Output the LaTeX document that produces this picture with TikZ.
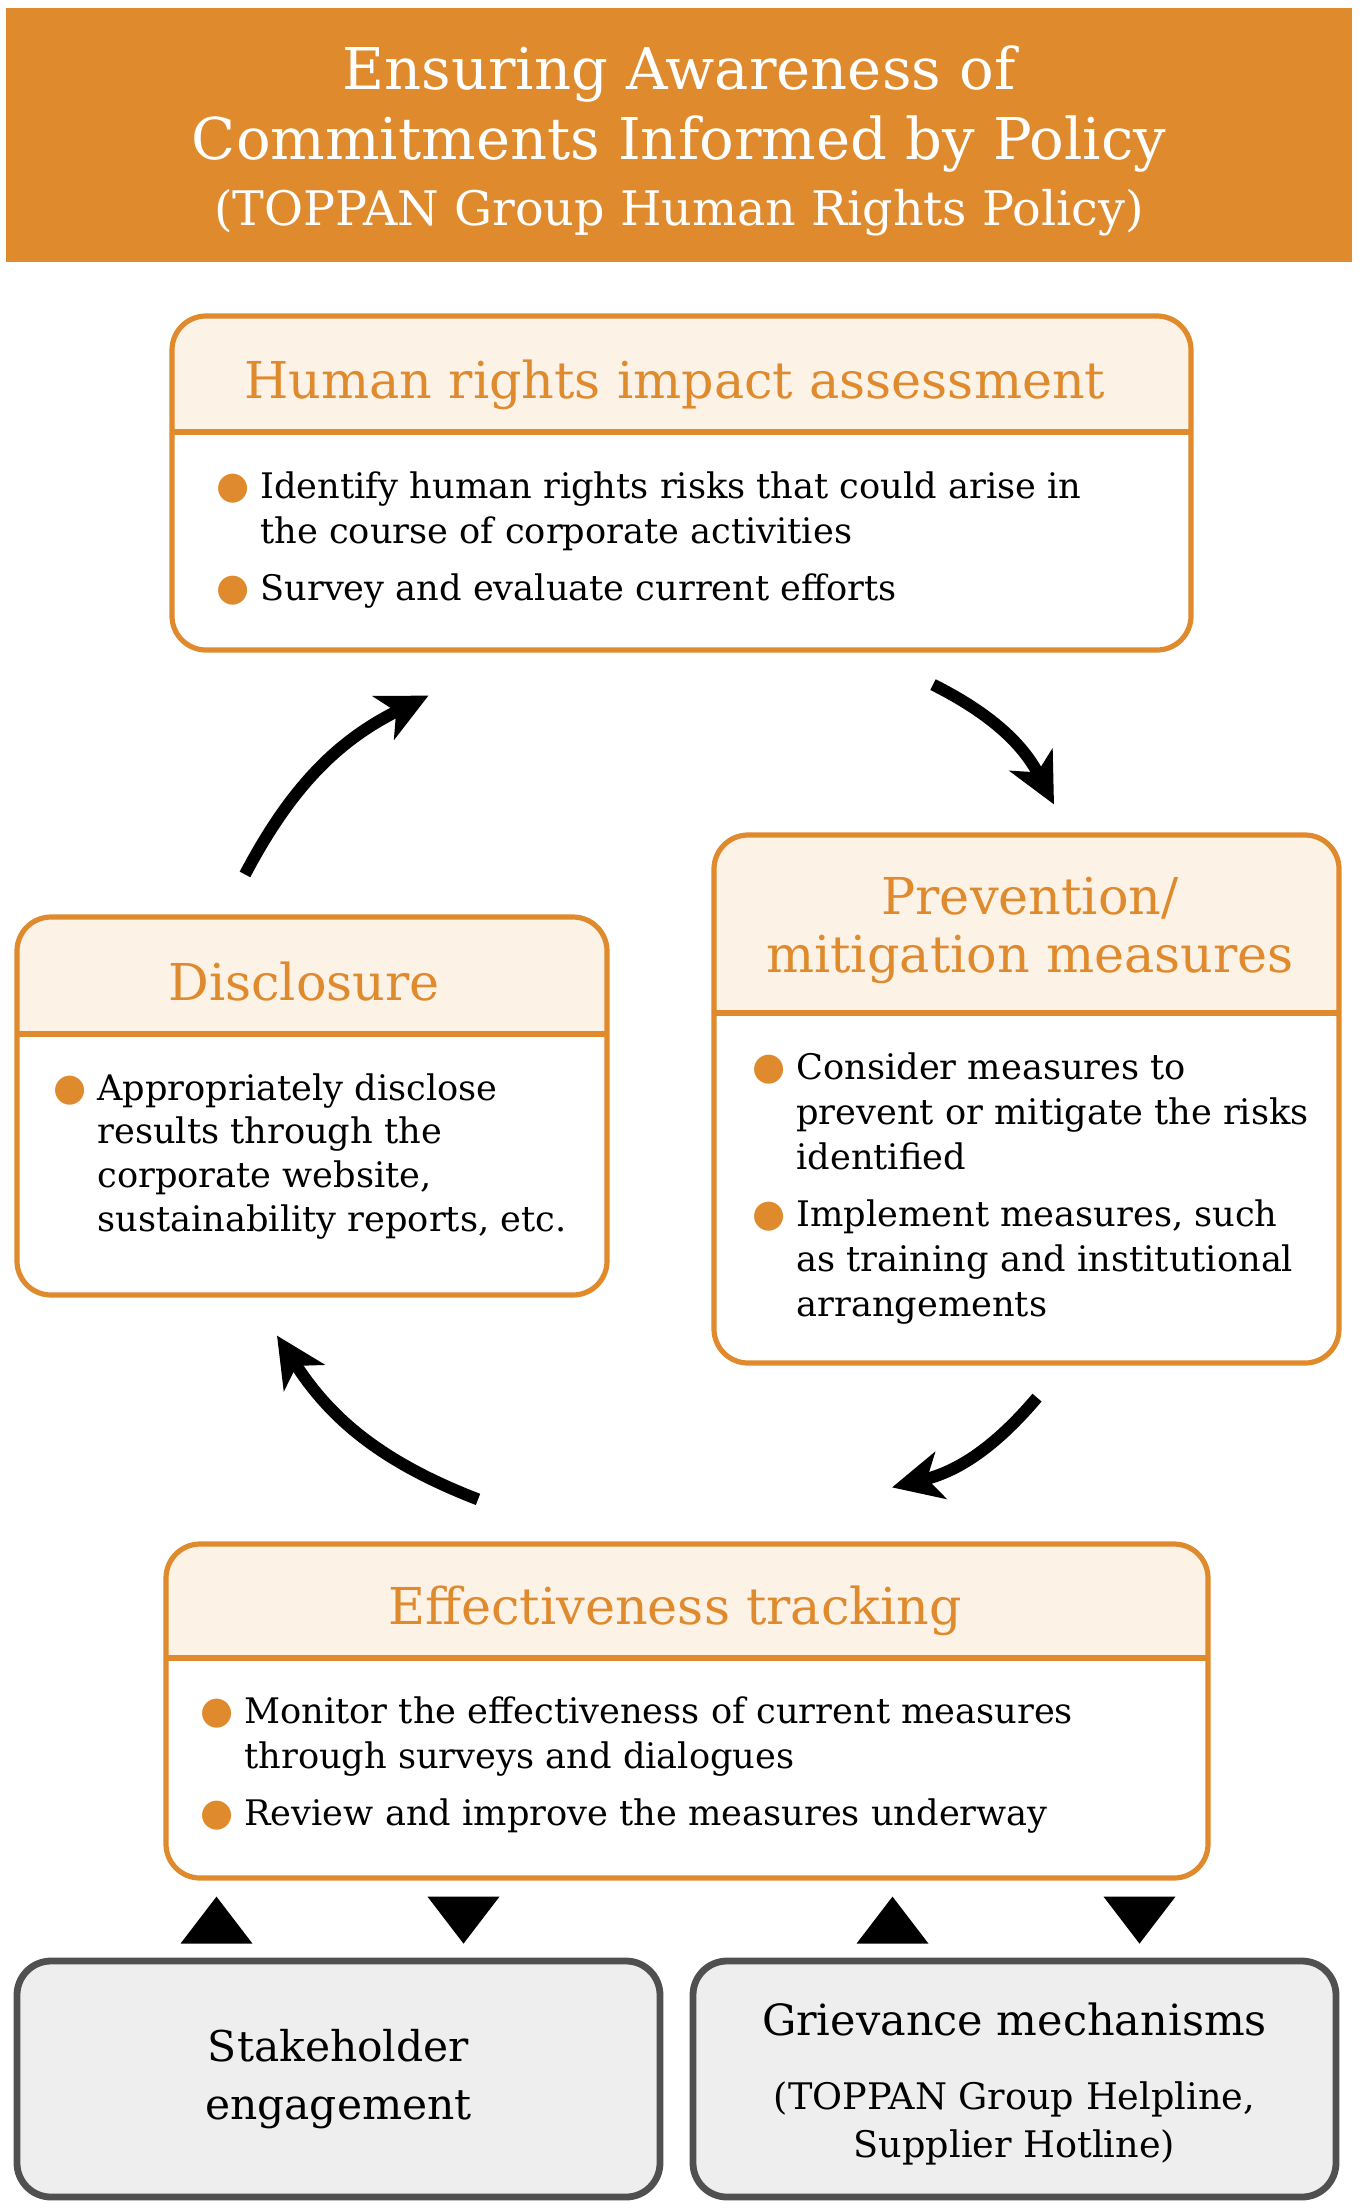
\documentclass[tikz,border=0pt]{standalone}
\usepackage{fontspec}
\setmainfont{DejaVu Serif}
\newfontfamily\dotfont{DejaVu Sans}
\usetikzlibrary{arrows.meta,positioning}

\definecolor{topporange}{HTML}{E08A2E}
\definecolor{headcream}{HTML}{FCF2E6}
\definecolor{boxgray}{HTML}{EEEEEE}
\definecolor{edgegray}{HTML}{505050}

% orange bullet hanging left of the text
\newcommand\ptdot{\llap{\textcolor{topporange}{\fontsize{19}{19}\dotfont ●}\hspace{5.5pt}}}

\tikzset{
  stepbox/.style={draw=topporange,line width=2.6pt,rounded corners=17pt,fill=white,inner sep=0pt,
    path picture={
      \fill[headcream,sharp corners] (path picture bounding box.north west) rectangle ([yshift=-#1]path picture bounding box.north east);
      \draw[topporange,line width=2.6pt,sharp corners] ([yshift=-#1]path picture bounding box.north west) -- ([yshift=-#1]path picture bounding box.north east);
    }},
  steptitle/.style={text=topporange,font=\fontsize{25.4}{29}\selectfont,align=center,inner sep=0pt},
  stepbody/.style={font=\fontsize{17.6}{22.5}\selectfont,align=left,inner sep=0pt,anchor=north west},
  sidebox/.style={draw=edgegray,line width=3.4pt,rounded corners=17pt,fill=boxgray,inner sep=0pt,align=center},
  cyc/.style={line width=6pt,-{Stealth[length=25pt,width=24pt,inset=7pt]}}
}

\begin{document}
\begin{tikzpicture}[x=0.5pt,y=-0.5pt]
  \useasboundingbox (0,0) rectangle (1360,2212);

  % banner
  \node[fill=topporange,minimum width=673pt,minimum height=127pt,inner sep=0pt] (banner) at (679,135) {};
  \node[text=white,align=center,inner sep=0pt,font=\fontsize{28.8}{35}\selectfont] (banner-t) at (679,141)
    {Ensuring Awareness of\\ Commitments Informed by Policy\\[-2pt] {\fontsize{23.8}{34}\selectfont (TOPPAN Group Human Rights Policy)}};

  % the four steps
  \node[stepbox=58pt,minimum width=509.5pt,minimum height=167pt] (hria) at (681.5,483) {};
  \node[steptitle] (hria-t) at (675,385) {Human rights impact assessment};
  \node[stepbody] (hria-b) at (260,471)
    {\ptdot Identify human rights risks that could arise in\\ the course of corporate activities\\[6pt]
     \ptdot Survey and evaluate current efforts};

  \node[stepbox=89pt,minimum width=312.5pt,minimum height=264pt] (prev) at (1026.5,1099) {};
  \node[steptitle] (prev-t) at (1030,930) {Prevention/\\ mitigation measures};
  \node[stepbody] (prev-b) at (796,1052)
    {\ptdot Consider measures to\\ prevent or mitigate the risks\\ identified\\[6pt]
     \ptdot Implement measures, such\\ as training and institutional\\ arrangements};

  \node[stepbox=58.5pt,minimum width=295pt,minimum height=189pt] (disc) at (312,1106) {};
  \node[steptitle] (disc-t) at (304,982) {Disclosure};
  \node[stepbody,font=\fontsize{17.6}{21.9}\selectfont] (disc-b) at (97,1073)
    {\ptdot Appropriately disclose\\ results through the\\ corporate website,\\ sustainability reports, etc.};

  \node[stepbox=57pt,minimum width=521pt,minimum height=167pt] (eff) at (687,1711) {};
  \node[steptitle] (eff-t) at (675,1611) {Effectiveness tracking};
  \node[stepbody] (eff-b) at (244,1696)
    {\ptdot Monitor the effectiveness of current measures\\ through surveys and dialogues\\[6pt]
     \ptdot Review and improve the measures underway};

  % cycle arrows
  \draw[cyc] ([shift={(-67,-40)}]disc.north) to[bend left=18] ([shift={(-253,43)}]hria.south);
  \draw[cyc] ([shift={(251.5,32)}]hria.south) to[bend left=18] ([shift={(27.5,-28)}]prev.north);
  \draw[cyc] ([shift={(10.5,32)}]prev.south) to[bend left=18] ([shift={(205,-54)}]eff.north);
  \draw[cyc] ([shift={(-209,-42)}]eff.north) to[bend left=18] ([shift={(-35,38)}]disc.south);

  % outside channels
  \node[sidebox,minimum width=321.5pt,minimum height=118pt,font=\fontsize{21.2}{29}\selectfont] (stake) at (338.5,2079)
    {Stakeholder\\ engagement};
  \node[sidebox,minimum width=321.5pt,minimum height=118pt] (griev) at (1014.5,2079) {};
  \node[align=center,inner sep=0pt,font=\fontsize{21.5}{24}\selectfont] (griev-t) at (1014.5,2084)
    {Grievance mechanisms\\[13pt] {\fontsize{18.3}{23}\selectfont (TOPPAN Group Helpline,}\\ {\fontsize{18.3}{23}\selectfont Supplier Hotline)}};

  \foreach \n in {stake,griev} {
    \fill ([shift={(-158,-14)}]\n.north) -- ++(72,0) -- ++(-36,-47) -- cycle;
    \fill ([shift={(89,-61)}]\n.north) -- ++(72,0) -- ++(-36,47) -- cycle;
  }
\end{tikzpicture}
\end{document}
